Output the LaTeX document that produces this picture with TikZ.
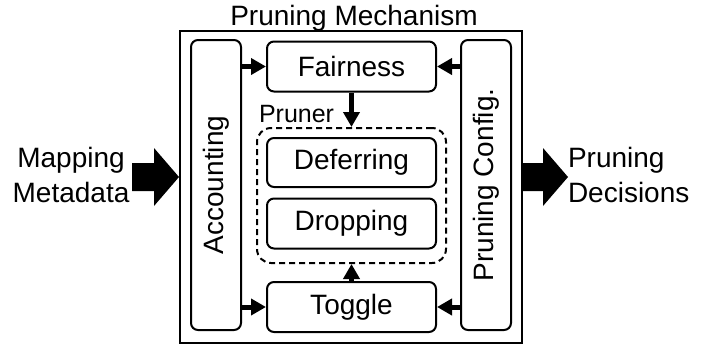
\documentclass[tikz,border=0pt]{standalone}
\usepackage{fontspec}
\setmainfont{Liberation Sans}
\usetikzlibrary{arrows.meta}
\begin{document}
\begin{tikzpicture}[x=1pt,y=-1pt,line width=2pt,
        font=\fontsize{28}{35}\selectfont,
        blk/.style={draw,rounded corners=7pt,inner sep=0pt},
        arr/.style={-{Triangle[length=15pt,width=16pt]},line width=5pt}]
        \useasboundingbox (0,0) rectangle (715,349);
        % outer frame
        \node[draw,inner sep=0pt,minimum width=342pt,minimum height=312pt] (mech) at (351,187) {};
        \node[anchor=base,inner sep=0pt] (title) at (354,25) {Pruning Mechanism};
        % side blocks
        \node[blk,rotate=90,minimum width=290pt,minimum height=50pt] (acc) at (216,185) {Accounting};
        \node[blk,rotate=90,minimum width=290pt,minimum height=50pt] (cfg) at (486,185) {Pruning Config.};
        % middle blocks
        \node[blk,minimum width=169pt,minimum height=50pt] (fair) at (351.5,66.5) {Fairness};
        \node[blk,minimum width=169pt,minimum height=49pt] (defer) at (351.5,162.5) {Deferring};
        \node[blk,minimum width=169pt,minimum height=50pt] (drop) at (351.5,223.5) {Dropping};
        \node[blk,minimum width=169pt,minimum height=50pt] (tog) at (351.5,307) {Toggle};
        \node[draw,dashed,dash pattern=on 6pt off 4pt,rounded corners=14pt,
            minimum width=189pt,minimum height=135pt] (prun) at (351.5,195.5) {};
        \node[anchor=base west,inner sep=0pt,font=\fontsize{25}{30}\selectfont] (prunlbl) at (258,122) {Pruner};
        % small arrows
        \draw[arr] (acc.south |- fair.west) -- (fair.west);
        \draw[arr] (cfg.north |- fair.east) -- (fair.east);
        \draw[arr] (acc.south |- tog.west) -- (tog.west);
        \draw[arr] (cfg.north |- tog.east) -- (tog.east);
        \draw[arr] (fair.south) -- (prun.north);
        \draw[arr] (tog.north) -- (prun.south);
        % in / out
        \node[align=center,inner sep=0pt] (mapin) at (71,175) {Mapping\\Metadata};
        \node[align=left,inner sep=0pt,anchor=west] (decout) at (567,175) {Pruning\\Decisions};
        \coordinate (tipin) at (179,177);
        \coordinate (tipout) at (568,177);
        \fill[shift={(tipin)}] (-47,-14) -- (-25,-14) -- (-25,-29) -- (0,0)
            -- (-25,29) -- (-25,14) -- (-47,14) -- cycle;
        \fill[shift={(tipout)}] (-46,-14) -- (-25,-14) -- (-25,-29) -- (0,0)
            -- (-25,29) -- (-25,14) -- (-46,14) -- cycle;
\end{tikzpicture}
\end{document}
